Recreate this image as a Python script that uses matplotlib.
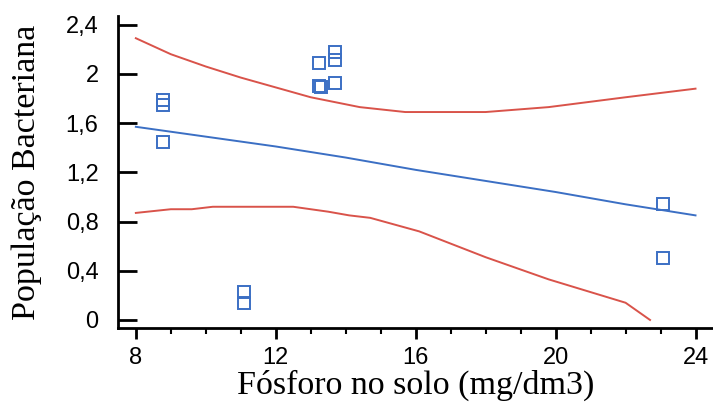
import matplotlib
matplotlib.use("Agg")
import matplotlib.pyplot as plt
from matplotlib.ticker import MultipleLocator, FuncFormatter

# observed points
fosforo = [8.77, 8.77, 8.77, 11.1, 11.1, 13.25, 13.25, 13.28, 13.68, 13.68, 13.7, 23.06, 23.06]
populacao = [1.79, 1.75, 1.45, 0.23, 0.14, 2.09, 1.90, 1.89, 2.18, 2.11, 1.93, 0.94, 0.50]

# fitted line
fit_x = [8.0, 10.0, 12.0, 14.0, 16.0, 18.0, 20.0, 22.0, 24.0]
fit_y = [1.57, 1.49, 1.41, 1.32, 1.22, 1.13, 1.04, 0.94, 0.85]

# confidence bands
upper_x = [8.0, 9.0, 10.0, 11.0, 12.0, 13.0, 14.4, 15.7, 18.0, 19.8, 22.0, 24.0]
upper_y = [2.29, 2.16, 2.06, 1.97, 1.89, 1.81, 1.73, 1.69, 1.69, 1.73, 1.81, 1.88]
lower_x = [8.0, 9.0, 9.6, 10.2, 12.5, 13.5, 14.1, 14.7, 16.1, 18.0, 19.8, 22.0, 22.7]
lower_y = [0.87, 0.90, 0.90, 0.92, 0.92, 0.88, 0.85, 0.83, 0.72, 0.51, 0.33, 0.14, 0.0]

red = "#d9534a"
blue = "#3b6fc4"

fig = plt.figure(figsize=(7.13, 4.12), dpi=100)
ax = fig.add_axes([0.1655, 0.204, 0.8345, 0.757])

ax.plot(upper_x, upper_y, color=red, lw=1.4)
ax.plot(lower_x, lower_y, color=red, lw=1.4)
ax.plot(fit_x, fit_y, color=blue, lw=1.4)
ax.plot(fosforo, populacao, "s", ms=8.5, mfc="none", mec=blue, mew=1.4)

ax.set_xlim(7.49, 24.5)
ax.set_ylim(-0.065, 2.47)

ax.spines["top"].set_visible(False)
ax.spines["right"].set_visible(False)
for s in ("left", "bottom"):
    ax.spines[s].set_linewidth(2)

ax.xaxis.set_major_locator(MultipleLocator(4))
ax.xaxis.set_minor_locator(MultipleLocator(1))
ax.yaxis.set_major_locator(MultipleLocator(0.4))
ax.yaxis.set_major_formatter(FuncFormatter(lambda v, p: ("%.1f" % v).rstrip("0").rstrip(".").replace(".", ",")))

ax.tick_params(axis="x", which="major", direction="out", length=8, width=2, pad=6)
ax.tick_params(axis="x", which="minor", direction="out", length=4, width=1.5)
ax.tick_params(axis="y", which="major", direction="in", length=14, width=2, pad=14)
ax.tick_params(axis="both", which="major", labelsize=17, labelfontfamily="Liberation Sans")

ax.set_xlabel("Fósforo no solo (mg/dm3)", fontfamily="Liberation Serif", fontsize=24.5, labelpad=0)
ax.set_ylabel("População Bacteriana", fontfamily="Liberation Serif", fontsize=24.5)
ax.yaxis.set_label_coords(-0.128, 0.5)

fig.savefig("out.png", dpi=100)
